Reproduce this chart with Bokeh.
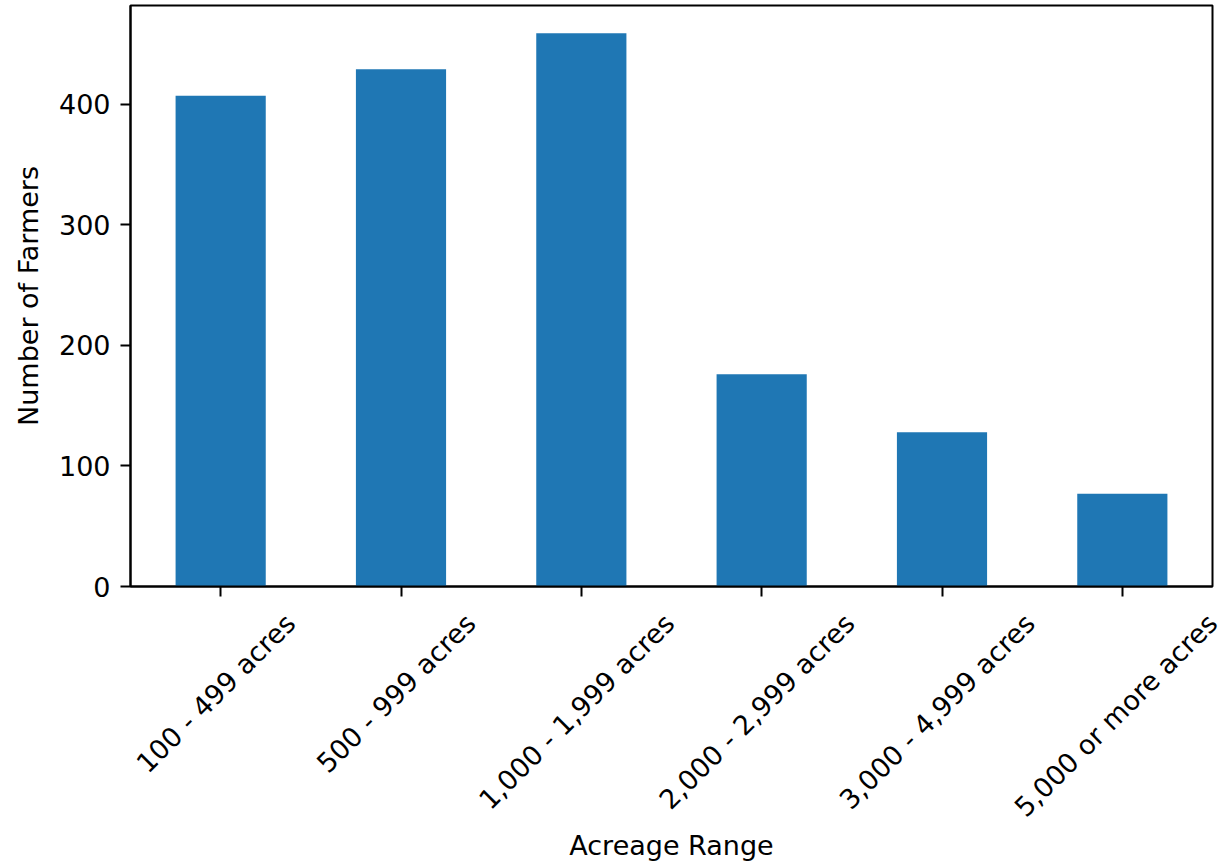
import math
from bokeh.plotting import figure
from bokeh.models import Range1d, FixedTicker, LinearAxis
from bokeh.embed import file_html
from bokeh.resources import INLINE

categories = ["100 - 499 acres", "500 - 999 acres", "1,000 - 1,999 acres",
              "2,000 - 2,999 acres", "3,000 - 4,999 acres", "5,000 or more acres"]
farmers = [407, 429, 459, 176, 128, 77]
y_ticks = [0, 100, 200, 300, 400]

FONT = "DejaVu Sans"
FS = 27
BAR_COLOR = "#1f77b4"
FRAME_W = 1082
FRAME_H = 581

xs = list(range(len(categories)))
x_lo, x_hi = -0.5, len(categories) - 0.5
p = figure(frame_width=FRAME_W, frame_height=FRAME_H, output_backend="svg",
           toolbar_location=None,
           x_range=Range1d(x_lo, x_hi),
           y_range=Range1d(0, max(farmers) * 1.05),
           min_border_left=130, min_border_right=12, min_border_top=5,
           min_border_bottom=0)
p.vbar(x=xs, top=farmers, width=0.5, bottom=0, fill_color=BAR_COLOR, line_color=None)

p.grid.visible = False
p.outline_line_color = "black"
p.outline_line_width = 2
p.background_fill_color = "white"
p.border_fill_color = "white"

def style(ax):
    ax.axis_line_color = "black"
    ax.axis_line_width = 2
    ax.major_tick_line_color = "black"
    ax.major_tick_line_width = 2
    ax.major_tick_out = 10
    ax.major_tick_in = 0
    ax.minor_tick_line_color = None
    ax.major_label_text_font = FONT
    ax.major_label_text_font_size = f"{FS}px"
    ax.major_label_text_color = "black"
    ax.axis_label_text_font = FONT
    ax.axis_label_text_font_size = f"{FS}px"
    ax.axis_label_text_font_style = "normal"
    ax.axis_label_text_color = "black"

xaxis_main = p.below[0]
yaxis_main = p.left[0]
style(xaxis_main)
style(yaxis_main)

yaxis_main.ticker = FixedTicker(ticks=y_ticks)
yaxis_main.major_label_standoff = 10
yaxis_main.axis_label = "Number of Farmers"
yaxis_main.axis_label_standoff = 12

# tick marks at the bar centres (labels drawn by the second axis)
xaxis_main.ticker = FixedTicker(ticks=xs)
xaxis_main.major_label_overrides = {i: "" for i in xs}
xaxis_main.major_label_standoff = 0

# DejaVu Sans advance widths (em), used to centre the rotated labels under the ticks
W = {' ': 0.318, '-': 0.361, ',': 0.318, 'a': 0.613, 'c': 0.550, 'e': 0.615,
     'm': 0.974, 'o': 0.612, 'r': 0.411, 's': 0.521}
for d in "0123456789":
    W[d] = 0.636

def text_w(s):
    return sum(W.get(ch, 0.6) for ch in s) * FS

px_per_unit = FRAME_W / len(categories)
label_ticks = [min(i + (-5 + math.sqrt(0.5) * text_w(lab) / 2) / px_per_unit, x_hi - 1e-6)
               for i, lab in zip(xs, categories)]

xaxis_lab = LinearAxis(ticker=FixedTicker(ticks=label_ticks),
                       major_label_overrides={t: lab for t, lab in zip(label_ticks, categories)})
style(xaxis_lab)
xaxis_lab.axis_line_color = None
xaxis_lab.major_tick_line_color = None
xaxis_lab.major_tick_out = 0
xaxis_lab.major_label_orientation = math.pi / 4
xaxis_lab.major_label_standoff = 22
xaxis_lab.axis_label = "Acreage Range"
xaxis_lab.axis_label_standoff = -7
p.add_layout(xaxis_lab, "below")

open("out.html", "w").write(file_html(p, INLINE))
